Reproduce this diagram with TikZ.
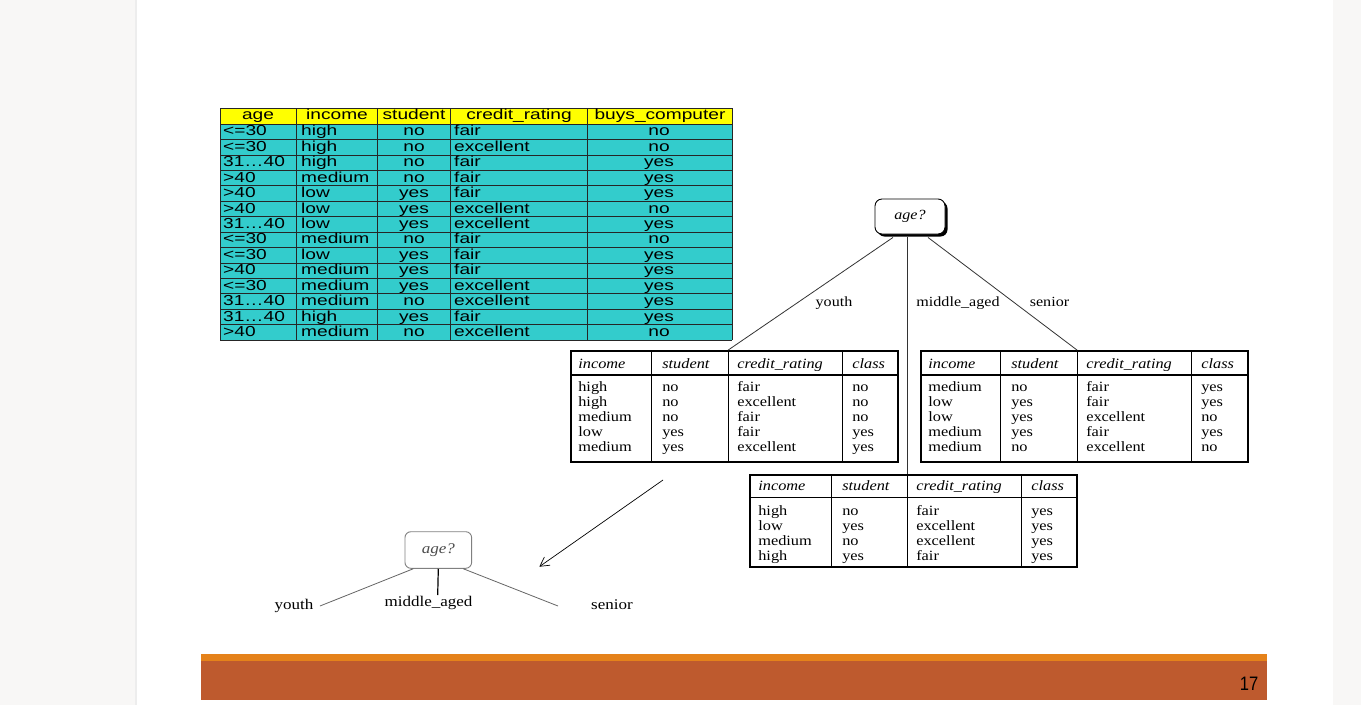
\documentclass[tikz,border=0pt]{standalone}
\usepackage{fontspec}
\usepackage{xcolor}
\usetikzlibrary{positioning,arrows.meta,shadows}
\newfontfamily\tabsans[FakeStretch=1.32]{Liberation Sans}
\newfontfamily\treeserif[FakeStretch=1.15]{Liberation Serif}
\newfontfamily\pagesans[FakeStretch=0.85]{Liberation Sans}
\definecolor{hdryellow}{HTML}{FFFF00}
\definecolor{rowcyan}{HTML}{33CCCC}
\definecolor{barorange}{HTML}{E5821A}
\definecolor{barrust}{HTML}{BE5A2E}
\definecolor{pagegray}{HTML}{F8F7F6}

\begin{document}
\begin{tikzpicture}[x=1pt,y=-1pt,
  cell/.style={inner sep=0pt,font=\tabsans\fontsize{14.5}{15}\selectfont},
  sub/.style={inner sep=0pt,anchor=base west,font=\treeserif\fontsize{14.2}{14}\selectfont},
  subhd/.style={inner sep=0pt,anchor=base west,font=\treeserif\itshape\fontsize{14.2}{14}\selectfont},
  subbox/.style={draw,line width=1.8pt,minimum width=327pt,inner sep=0pt},
  grid/.style={line width=0.7pt,black!85},
  col/.style={line width=1pt},
  edge/.style={line width=0.8pt,black!80},
  bedge/.style={line width=0.8pt,black!60},
  arr/.style={-{Straight Barb[length=9pt,width=10pt]},line width=0.7pt},
  lbl/.style={inner sep=0pt,anchor=base,font=\treeserif\fontsize{14}{14}\selectfont},
  blbl/.style={inner sep=0pt,anchor=base,font=\treeserif\fontsize{14.8}{14.8}\selectfont},
  agebox/.style={draw,line width=0.9pt,rounded corners=7pt,fill=white,
    minimum width=70pt,minimum height=35pt,inner sep=0pt,
    font=\treeserif\itshape\fontsize{14}{14}\selectfont,
    drop shadow={opacity=1,fill=black,shadow xshift=2.5pt,shadow yshift=-2.5pt}},
  minbox/.style={draw=black!50,line width=0.9pt,rounded corners=6pt,
    minimum width=66.7pt,minimum height=36.6pt,inner sep=0pt,text=black!70,
    font=\treeserif\itshape\fontsize{14.8}{14.8}\selectfont}
]
\useasboundingbox (0,0) rectangle (1361,705);
% page
\fill[pagegray] (0,0) rectangle (1361,705);
\fill[white] (136,0) rectangle (1333,705);
\draw[black!7,line width=1.2pt] (136,0) -- (136,705);

% training data table
\fill[hdryellow] (220,108) rectangle (732,124);
\fill[rowcyan] (220,124) rectangle (732,340);
\draw[grid] (220,108) -- (732,108);
\foreach \y in {0,...,14}
  \draw[grid] (220,124+15.43*\y) -- (732,124+15.43*\y);
\foreach \x in {220,296,377.5,450.5,587,732}
  \draw[grid] (\x,108) -- (\x,340);
\node[cell,anchor=base] (h1) at (258,119.5) {age};
\node[cell,anchor=base] (h2) at (337,119.5) {income};
\node[cell,anchor=base] (h3) at (414,119.5) {student};
\node[cell,anchor=base] (h4) at (519,119.5) {credit\_rating};
\node[cell,anchor=base] (h5) at (660,119.5) {buys\_computer};
\foreach \a/\i/\s/\c/\b [count=\r] in {
  <=30/high/no/fair/no, <=30/high/no/excellent/no, 31…40/high/no/fair/yes,
  >40/medium/no/fair/yes, >40/low/yes/fair/yes, >40/low/yes/excellent/no,
  31…40/low/yes/excellent/yes, <=30/medium/no/fair/no, <=30/low/yes/fair/yes,
  >40/medium/yes/fair/yes, <=30/medium/yes/excellent/yes,
  31…40/medium/no/excellent/yes, 31…40/high/yes/fair/yes,
  >40/medium/no/excellent/no}
{
  \node[cell,anchor=base west] (a\r) at (223,120.5+15.43*\r) {\a};
  \node[cell,anchor=base west] (i\r) at (301,120.5+15.43*\r) {\i};
  \node[cell,anchor=base] (s\r) at (414,120.5+15.43*\r) {\s};
  \node[cell,anchor=base west] (c\r) at (454,120.5+15.43*\r) {\c};
  \node[cell,anchor=base] (b\r) at (659,120.5+15.43*\r) {\b};
}

% tree root
\node[agebox] (root) at (910,216.5) {age?};

% youth partition
\node[subbox,minimum height=111pt] (lt) at (734.5,406.5) {};
\begin{scope}[shift={(lt.north west)}]
  \draw[col] (81,0) -- (81,111) (158,0) -- (158,111) (272,0) -- (272,111);
  \draw[line width=1.6pt] (0,25) -- (327,25);
  \coordinate (lc) at (158,0);
  \node[subhd] (lh1) at (8,18.5) {income};
  \node[subhd] (lh2) at (92,18.5) {student};
  \node[subhd] (lh3) at (167,18.5) {credit\_rating};
  \node[subhd] (lh4) at (282,18.5) {class};
  \foreach \i/\s/\c/\k [count=\r] in {high/no/fair/no, high/no/excellent/no,
    medium/no/fair/no, low/yes/fair/yes, medium/yes/excellent/yes}
  {
    \node[sub] (li\r) at (8,27+14.8*\r) {\i};
    \node[sub] (ls\r) at (92,27+14.8*\r) {\s};
    \node[sub] (lc\r) at (167,27+14.8*\r) {\c};
    \node[sub] (lk\r) at (282,27+14.8*\r) {\k};
  }
\end{scope}

% senior partition
\node[subbox,minimum height=111pt] (rt) at (1084.5,406.5) {};
\begin{scope}[shift={(rt.north west)}]
  \draw[col] (80,0) -- (80,111) (157,0) -- (157,111) (271,0) -- (271,111);
  \draw[line width=1.6pt] (0,25) -- (327,25);
  \coordinate (rc) at (157,0);
  \node[subhd] (rh1) at (8,18.5) {income};
  \node[subhd] (rh2) at (91,18.5) {student};
  \node[subhd] (rh3) at (166,18.5) {credit\_rating};
  \node[subhd] (rh4) at (281,18.5) {class};
  \foreach \i/\s/\c/\k [count=\r] in {medium/no/fair/yes, low/yes/fair/yes,
    low/yes/excellent/no, medium/yes/fair/yes, medium/no/excellent/no}
  {
    \node[sub] (ri\r) at (8,27+14.8*\r) {\i};
    \node[sub] (rs\r) at (91,27+14.8*\r) {\s};
    \node[sub] (rc\r) at (166,27+14.8*\r) {\c};
    \node[sub] (rk\r) at (281,27+14.8*\r) {\k};
  }
\end{scope}

% middle_aged partition
\node[subbox,minimum height=92pt] (mt) at (913.5,521) {};
\begin{scope}[shift={(mt.north west)}]
  \draw[col] (82,0) -- (82,92) (158,0) -- (158,92) (272,0) -- (272,92);
  \draw[line width=1.6pt] (0,23.3) -- (327,23.3);
  \coordinate (mc) at (158,0);
  \node[subhd] (mh1) at (9,16.7) {income};
  \node[subhd] (mh2) at (93,16.7) {student};
  \node[subhd] (mh3) at (167,16.7) {credit\_rating};
  \node[subhd] (mh4) at (282,16.7) {class};
  \foreach \i/\s/\c/\k [count=\r] in {high/no/fair/yes, low/yes/excellent/yes,
    medium/no/excellent/yes, high/yes/fair/yes}
  {
    \node[sub] (mi\r) at (9,26.5+14.9*\r) {\i};
    \node[sub] (ms\r) at (93,26.5+14.9*\r) {\s};
    \node[sub] (mc\r) at (167,26.5+14.9*\r) {\c};
    \node[sub] (mk\r) at (282,26.5+14.9*\r) {\k};
  }
\end{scope}

% branches
\draw[edge] ([xshift=-17pt,yshift=-3pt]root.south) -- (lc);
\draw[edge] ([yshift=-3pt]root.south -| mc) -- (mc);
\draw[edge] ([xshift=18pt,yshift=-3pt]root.south) -- (rc);
\node[lbl] (ly) at (834,306) {youth};
\node[lbl] (lm) at (958,306) {middle\_aged};
\node[lbl] (ls) at (1049.5,306) {senior};

% arrow to the new tree
\coordinate (as) at (663,480);
\coordinate (ae) at (539.3,566.7);
\draw[arr] (as) -- (ae);

% new tree
\node[minbox] (bt) at (438.3,550) {age?};
\coordinate (by) at (320,606);
\coordinate (bm) at (437.7,595);
\coordinate (bs) at (558,606);
\draw[bedge] ([xshift=-25pt]bt.south) -- (by);
\draw[line width=1.2pt] (bt.south) -- (bm);
\draw[bedge] ([xshift=25pt]bt.south) -- (bs);
\node[blbl] (byl) at (294,609) {youth};
\node[blbl] (bml) at (428.5,606) {middle\_aged};
\node[blbl] (bsl) at (612,609) {senior};

% footer bar
\fill[barorange] (201,654) rectangle (1267,661);
\fill[barrust] (201,661) rectangle (1267,700);
\node[inner sep=0pt,anchor=base,font=\pagesans\fontsize{19.5}{19.5}\selectfont] (pg) at (1249,690.5) {17};
\end{tikzpicture}
\end{document}
